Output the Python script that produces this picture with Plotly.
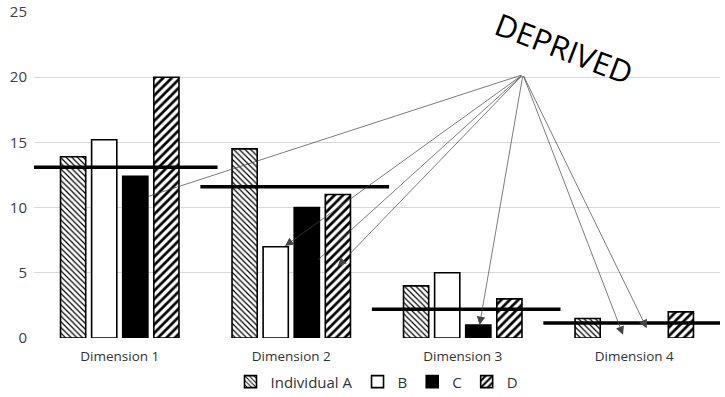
import plotly.graph_objects as go

categories = ["Dimension 1", "Dimension 2", "Dimension 3", "Dimension 4"]
series_names = ["Individual A", "B", "C", "D"]
values_a = [13.9, 14.5, 4.0, 1.5]
values_b = [15.2, 7.0, 5.0, 0.0]
values_c = [12.4, 10.0, 1.0, 0.0]
values_d = [20.0, 11.0, 3.0, 2.0]
thresholds = [13.1, 11.6, 2.2, 1.15]
y_ticks = [0, 5, 10, 15, 20, 25]

# arrows from the "DEPRIVED" label to bars
arrow_cat = [0, 1, 1, 1, 2, 3, 3]
arrow_series = [2, 1, 2, 3, 2, 1, 2]
arrow_y = [10.85, 7.05, 6.0, 5.5, 1.0, 0.25, 0.75]
arrow_dx = [0.5, 0.37, 0.45, 0.0, 0.05, 0.17, -0.12]
arrow_head = [0, 2, 0, 2, 2, 2, 2]
label_text = "DEPRIVED"
label_x, label_y = 2.59, 22.25
tail_x, tail_y = 2.351, 20.2

bargap = 0.275
bargroupgap = 0.19
slot = (1 - bargap) / 4
barw = slot * (1 - bargroupgap)

xs = list(range(len(categories)))
font = "Open Sans, Noto Sans, sans-serif"

styles = [
    dict(color="white", pattern=dict(shape="\\", size=4, solidity=0.3, fgcolor="black", bgcolor="white", fillmode="replace")),
    dict(color="white"),
    dict(color="black"),
    dict(color="white", pattern=dict(shape="/", size=6, solidity=0.45, fgcolor="black", bgcolor="white", fillmode="replace")),
]
all_vals = [values_a, values_b, values_c, values_d]

fig = go.Figure()
for name, vals, st in zip(series_names, all_vals, styles):
    fig.add_trace(go.Bar(
        x=xs, y=vals, name=name,
        marker=dict(**st, line=dict(color="black",
                                    width=[1.6 if v > 0 else 0 for v in vals])),
    ))

for i, t in enumerate(thresholds):
    fig.add_shape(type="line", xref="x", yref="y",
                  x0=i - 0.53, x1=i + 0.57, y0=t, y1=t,
                  line=dict(color="black", width=3.5))

for c, s, yv, dx, hd in zip(arrow_cat, arrow_series, arrow_y, arrow_dx, arrow_head):
    xt = c + (s - 1.5) * slot + dx * barw
    fig.add_annotation(x=xt, y=yv, ax=tail_x, ay=tail_y, axref="x", ayref="y",
                       xref="x", yref="y", text="", showarrow=True,
                       arrowhead=hd, arrowsize=2.4, arrowwidth=0.7,
                       arrowcolor="#444444", standoff=0, startstandoff=0)

fig.add_annotation(x=label_x, y=label_y, xref="x", yref="y", text=label_text,
                   showarrow=False, textangle=21,
                   font=dict(family=font, size=31, color="black"))

fig.update_layout(
    width=725, height=397,
    margin=dict(l=34, r=5, t=12, b=59, autoexpand=False),
    paper_bgcolor="white", plot_bgcolor="white",
    barmode="group", bargap=bargap, bargroupgap=bargroupgap,
    font=dict(family=font, color="#404040"),
    showlegend=True,
    legend=dict(orientation="h", x=0.5, xanchor="center", yref="container",
                y=0.038, yanchor="middle",
                font=dict(size=15, color="#333333"), itemwidth=30,
                traceorder="normal"),
)
fig.update_xaxes(tickmode="array", tickvals=xs, ticktext=categories,
                 range=[-0.5, 3.5], showgrid=False, zeroline=False, showline=False,
                 ticks="", automargin=False, ticklabelstandoff=8,
                 tickfont=dict(size=13.5, color="#333333"))
fig.update_yaxes(range=[0, 25], tickvals=y_ticks, showgrid=True, gridcolor="#d9d9d9",
                 gridwidth=1, zeroline=False, showline=False, ticks="",
                 automargin=False, ticklabelstandoff=6,
                 tickfont=dict(size=15, color="#404040"))

fig.write_html("out.html", config={"displayModeBar": False},
               post_script="document.body.style.margin='0';document.body.style.padding='0';")
